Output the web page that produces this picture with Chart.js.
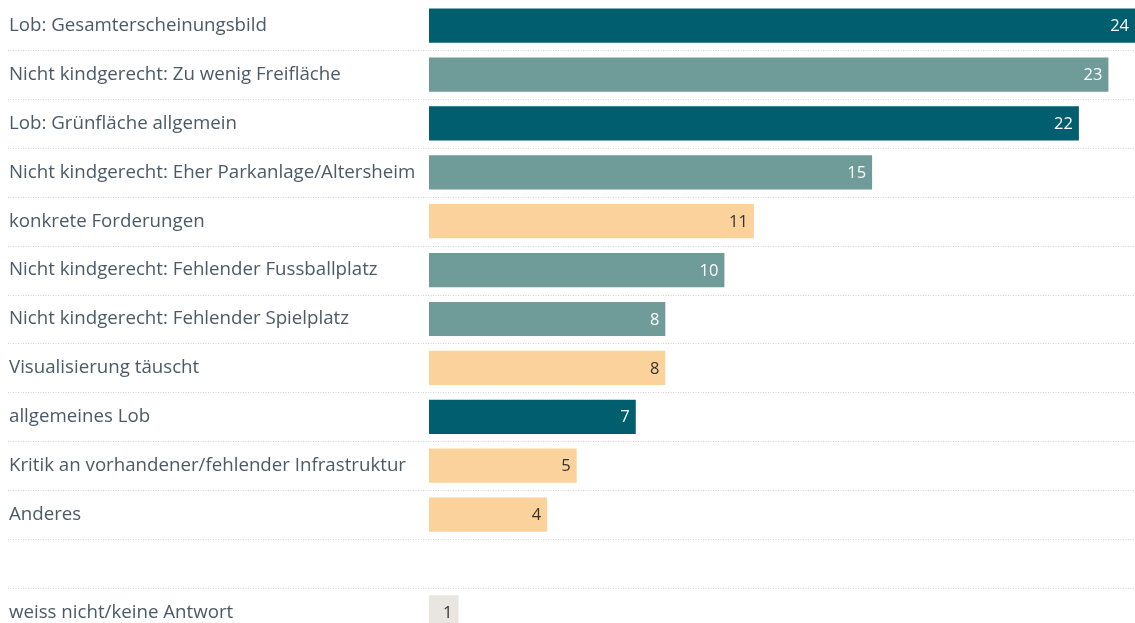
<!DOCTYPE html>
<html>
<head>
<meta charset="utf-8">
<script src="https://cdn.jsdelivr.net/npm/chart.js@4.4.1/dist/chart.umd.min.js"></script>
<style>
html,body{margin:0;padding:0;background:#fff;overflow:hidden;}
#wrap{width:1135px;height:658px;position:relative;margin-top:-10px;}
</style>
</head>
<body>
<div id="wrap"><canvas id="c"></canvas></div>
<script>
const categories = [
  "Lob: Gesamterscheinungsbild",
  "Nicht kindgerecht: Zu wenig Freifläche",
  "Lob: Grünfläche allgemein",
  "Nicht kindgerecht: Eher Parkanlage/Altersheim",
  "konkrete Forderungen",
  "Nicht kindgerecht: Fehlender Fussballplatz",
  "Nicht kindgerecht: Fehlender Spielplatz",
  "Visualisierung täuscht",
  "allgemeines Lob",
  "Kritik an vorhandener/fehlender Infrastruktur",
  "Anderes",
  "",
  "weiss nicht/keine Antwort"
];
const values = [24, 23, 22, 15, 11, 10, 8, 8, 7, 5, 4, null, 1];
const groups = ["lob","kind","lob","kind","other","kind","kind","other","lob","other","other","none","dk"];

const groupColors = {lob:"#005e6e", kind:"#6f9b98", other:"#fbd29c", dk:"#e9e5e1", none:"#ffffff"};
const labelColors = {lob:"#ffffff", kind:"#ffffff", other:"#333333", dk:"#333333", none:"#333333"};
const FONT = "'Open Sans', 'Noto Sans', sans-serif";

const gridPlugin = {
  id: 'fullGrid',
  beforeDatasetsDraw(chart) {
    const y = chart.scales.y;
    const ctx = chart.ctx;
    ctx.save();
    ctx.strokeStyle = '#d4d4d4';
    ctx.lineWidth = 1;
    ctx.setLineDash([1, 1.5]);
    for (let i = 1; i < categories.length; i++) {
      const py = Math.round((y.getPixelForTick(i - 1) + y.getPixelForTick(i)) / 2) + 0.5;
      ctx.beginPath();
      ctx.moveTo(8, py);
      ctx.lineTo(chart.width, py);
      ctx.stroke();
    }
    ctx.restore();
  }
};

const valuePlugin = {
  id: 'valueLabels',
  afterDatasetsDraw(chart) {
    const ctx = chart.ctx;
    const meta = chart.getDatasetMeta(0);
    ctx.save();
    ctx.font = "16.5px " + FONT;
    ctx.textAlign = 'right';
    ctx.textBaseline = 'middle';
    meta.data.forEach((bar, i) => {
      if (values[i] == null) return;
      ctx.fillStyle = labelColors[groups[i]];
      const xr = Math.min(bar.x, chart.width);
      ctx.fillText(String(values[i]), xr - 6, bar.y + 1);
    });
    ctx.restore();
  }
};

new Chart(document.getElementById('c'), {
  type: 'bar',
  data: {
    labels: categories,
    datasets: [{
      data: values,
      backgroundColor: groups.map(g => groupColors[g]),
      borderWidth: 0,
      barPercentage: 0.7,
      categoryPercentage: 1.0
    }]
  },
  options: {
    indexAxis: 'y',
    responsive: true,
    maintainAspectRatio: false,
    animation: false,
    layout: { padding: { left: 9, right: 0, top: 0, bottom: 0 } },
    plugins: { legend: { display: false }, tooltip: { enabled: false } },
    scales: {
      x: { display: false, min: 0, max: 23.9 },
      y: {
        grid: { display: false },
        border: { display: false },
        ticks: {
          crossAlign: 'far',
          color: '#4a5a67',
          padding: 0,
          font: { family: FONT, size: 18.7 }
        },
        afterFit(scale) { scale.width = 420; }
      }
    }
  },
  plugins: [gridPlugin, valuePlugin]
});
</script>
</body>
</html>
